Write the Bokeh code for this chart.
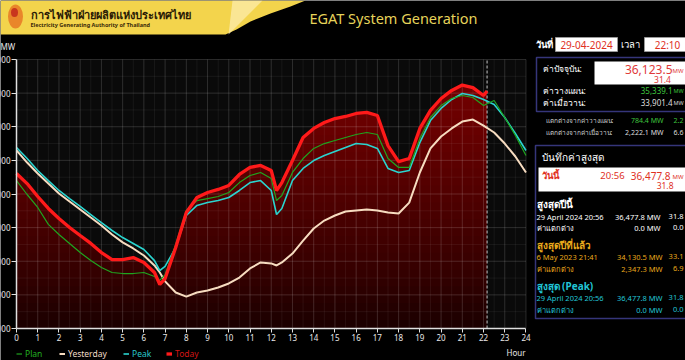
import numpy as np
from bokeh.plotting import figure
from bokeh.models import Range1d, LinearAxis, FixedTicker, NumeralTickFormatter, Legend, LegendItem
from bokeh.core.properties import value
from bokeh.embed import file_html
from bokeh.resources import INLINE

# ---------------- data ----------------
hours = [0, 0.5, 1, 1.5, 2, 2.5, 3, 3.5, 4, 4.5, 5, 5.5, 6, 6.5, 6.75, 7, 7.5, 8, 8.5, 9,
         9.5, 10, 10.5, 11, 11.5, 12, 12.25, 12.5, 13, 13.5, 14, 14.5, 15, 15.5, 16, 16.5,
         17, 17.5, 18, 18.5, 19, 19.5, 20, 20.5, 21, 21.5, 22, 22.5, 23, 23.5, 24]
plan = [30800, 29970, 29200, 28190, 27590, 27060, 26520, 26040, 25630, 25330, 25270, 25270,
        25330, 25090, 24860, 25210, 27000, 29020, 29610, 29730, 29850, 30090, 30680, 31100,
        31280, 30920, 29610, 29910, 31280, 32110, 32710, 33000, 33180, 33360, 33540, 33660,
        33540, 32110, 31580, 31580, 33300, 34550, 35260, 35680, 35860, 35740, 35260, 35560,
        34550, 33480, 32290]
yesterday = [32590, 31870, 31220, 30620, 30030, 29550, 29080, 28600, 28130, 27590, 27120,
             26760, 26340, 25750, 25330, 24800, 24140, 23900, 24140, 24260, 24440, 24680,
             25030, 25570, 25930, 25870, 25750, 25930, 26460, 27230, 27950, 28420, 28720,
             28960, 29020, 29080, 29020, 28900, 28840, 29490, 31280, 32710, 33420, 33900,
             34310, 34430, 34070, 33660, 33000, 32230, 31280]
peak = [32770, 32110, 31400, 30800, 30210, 29730, 29260, 28780, 28300, 27830, 27410, 27060,
        26700, 26040, 25450, 25690, 26820, 28720, 29320, 29490, 29610, 29790, 30210, 30680,
        30800, 30210, 28780, 29140, 30800, 31520, 31990, 32290, 32530, 32770, 33000, 32940,
        32710, 31520, 31280, 31400, 33060, 34370, 35090, 35620, 35980, 35860, 35620, 35320,
        34550, 33600, 32590]
now_hour = 22 + 10 / 60
today_hours = hours[:47] + [now_hour]
today = [31220, 30620, 29850, 29140, 28540, 28010, 27530, 27060, 26520, 26100, 26100, 26220,
         25930, 25330, 24620, 24970, 26820, 28900, 29790, 30090, 30270, 30510, 31160, 31580,
         31700, 31400, 30210, 30680, 31990, 33360, 33900, 34250, 34490, 34610, 34790, 34850,
         34670, 32880, 31930, 32110, 33900, 34970, 35680, 36160, 36478, 36330, 35860, 36124]

x_ticks = list(range(0, 25))
y_ticks = [22000, 24000, 26000, 28000, 30000, 32000, 34000, 36000, 38000]

series_names = ["Plan", "Yesterday", "Peak", "Today"]

# side panel values
cur_date = "29-04-2024"
cur_time = "22:10"
cur_mw = "36,123.5"
cur_temp = "31.4"
plan_now = "35,339.1"
yest_now = "33,901.4"
diff_plan = "784.4 MW"
diff_plan_pct = "2.2"
diff_yest = "2,222.1 MW"
diff_yest_pct = "6.6"
today_max_time = "20:56"
today_max = "36,477.8"
today_max_temp = "31.8"
year_max_date = "29 April 2024 20:56"
year_max = "36,477.8 MW"
year_max_temp = "31.8"
year_diff = "0.0 MW"
year_diff_temp = "0.0"
last_year_date = "6 May 2023 21:41"
last_year_max = "34,130.5 MW"
last_year_temp = "33.1"
last_year_diff = "2,347.3 MW"
last_year_diff_temp = "6.9"
peak_date = "29 April 2024 20:56"
peak_max = "36,477.8 MW"
peak_temp = "31.8"
peak_diff = "0.0 MW"
peak_diff_temp = "0.0"

# ---------------- figure ----------------
W, H = 685, 360
FONT = "Noto Sans"
p = figure(width=W, height=H, output_backend="svg", toolbar_location=None,
           x_range=Range1d(-0.7537, 31.514), y_range=Range1d(20097, 41509),
           x_axis_location=None, y_axis_location=None, min_border=0,
           background_fill_color="black", border_fill_color="black",
           outline_line_color=None)
p.grid.visible = False
p.extra_x_ranges = {"px": Range1d(0, W)}
p.extra_y_ranges = {"py": Range1d(H, 0)}
PX = dict(x_range_name="px", y_range_name="py")

# plot area background
p.quad(left=x_ticks[0], right=x_ticks[-1], bottom=y_ticks[0], top=y_ticks[-1],
       fill_color="#0a0a0a", line_color=None)

# gradient-like fill under today's curve
today_arr = np.array(today, dtype=float)
p.varea(x=today_hours, y1=y_ticks[0], y2=today, fill_color="#1c0000")
for lvl in np.arange(y_ticks[0] + 500, 36500, 500):
    p.varea(x=today_hours, y1=lvl, y2=np.maximum(today_arr, lvl),
            fill_color="#ff1010", fill_alpha=0.021)

# grid
minor_x = [t + 0.5 for t in x_ticks[:-1]]
minor_y = [t + 1000 for t in y_ticks[:-1]]
p.segment(x0=minor_x, y0=y_ticks[0], x1=minor_x, y1=y_ticks[-1],
          line_color="white", line_alpha=0.06, line_width=1)
p.segment(x0=x_ticks[0], y0=minor_y, x1=x_ticks[-1], y1=minor_y,
          line_color="white", line_alpha=0.06, line_width=1)
p.segment(x0=x_ticks[1:], y0=y_ticks[0], x1=x_ticks[1:], y1=y_ticks[-1],
          line_color="white", line_alpha=0.15, line_width=1)
p.segment(x0=x_ticks[0], y0=y_ticks[1:], x1=x_ticks[-1], y1=y_ticks[1:],
          line_color="white", line_alpha=0.15, line_width=1)

# current time marker
p.segment(x0=[now_hour], y0=[y_ticks[0]], x1=[now_hour], y1=[y_ticks[-1]],
          line_color="#c8c8c8", line_dash="3 2", line_width=1)

# lines
r_y = p.line(hours, yesterday, line_color="#f7dcc0", line_width=2)
r_pk = p.line(hours, peak, line_color="#2ad4cf", line_width=1.6)
r_pl = p.line(hours, plan, line_color="#1fa51f", line_width=1.2)
r_t = p.line(today_hours, today, line_color="#ff1a1a", line_width=3.3)

# axes
axis_style = dict(axis_line_color="#e0e0e0", axis_line_width=1.5,
                  major_tick_line_color="#e0e0e0", major_tick_in=0,
                  minor_tick_line_color=None, major_label_text_color="#e8e8e8",
                  major_label_text_font_size="8px",
                  major_label_text_font=FONT, major_label_standoff=1)
yaxis = LinearAxis(fixed_location=x_ticks[0], bounds=(y_ticks[0], y_ticks[-1]),
                   ticker=FixedTicker(ticks=y_ticks),
                   formatter=NumeralTickFormatter(format="0,0"),
                   major_tick_out=5, **axis_style)
p.add_layout(yaxis, "left")
xaxis = LinearAxis(fixed_location=y_ticks[0], bounds=(x_ticks[0], x_ticks[-1]),
                   ticker=FixedTicker(ticks=x_ticks), major_tick_out=4, **axis_style)
p.add_layout(xaxis, "below")

# legends (one per series so each label has its own colour)
leg_specs = [(series_names[0], r_pl, "#22b022", 16),
             (series_names[1], r_y, "#f0dcc8", 59),
             (series_names[2], r_pk, "#29c8cc", 123),
             (series_names[3], r_t, "#d01515", 166)]
for name, rend, col, xloc in leg_specs:
    lg = Legend(items=[LegendItem(label=name, renderers=[rend])], location=(xloc, 1),
                orientation="horizontal", background_fill_alpha=0,
                border_line_color=None, label_text_color=col,
                label_text_font_size="8.5px", label_text_font=FONT,
                glyph_width=6, glyph_height=5, label_height=10, label_standoff=3,
                padding=0, margin=0, spacing=0)
    p.add_layout(lg)


def txt(x, y, s, color, size, align="left", style="normal", font=FONT):
    p.text(x=[x], y=[y], text=[s], text_color=color, text_font_size=size,
           text_align=align, text_baseline="middle", text_font=value(font),
           text_font_style=style, **PX)


# axis captions
txt(0, 46, "MW", "#e8e8e8", "8px")
txt(525, 352, "Hour", "#e8e8e8", "8px", align="right")

# ---------------- header ----------------
p.patch(x=[0, 305, 290, 270, 250, 236, 225, 0], y=[0, 0, 6, 13, 21, 29, 34, 34],
        fill_color="#f3d44c", line_color=None, **PX)
p.patch(x=[232, 262, 248, 238, 228], y=[0, 0, 14, 24, 34],
        fill_color="#fbeaa6", line_color=None, fill_alpha=0.8, **PX)
p.ellipse(x=[15], y=[16], width=[15], height=[24], fill_color="#e9862a",
          line_color=None, **PX)
p.ellipse(x=[14], y=[12], width=[7], height=[9], fill_color="#c8361e",
          line_color=None, **PX)
txt(30, 14, "การไฟฟ้าฝ่ายผลิตแห่งประเทศไทย", "#2a1a05", "11px", style="bold")
txt(30, 24, "Electricity Generating Authority of Thailand", "#3a2a08", "5.5px", style="bold")
txt(393, 17, "EGAT System Generation", "#e6d35a", "14.5px", align="center")

# ---------------- side panel ----------------
# date / time
txt(535, 44, "วันที่", "white", "9.5px", style="bold")
p.quad(left=555, right=617, top=37, bottom=51, fill_color="white", line_color="#999999", **PX)
txt(586, 44, cur_date, "#e0301e", "10px", align="center")
txt(620, 44, "เวลา", "white", "9.5px")
p.quad(left=644, right=700, top=37, bottom=51, fill_color="white", line_color="#999999", **PX)
txt(667, 44, cur_time, "#e0301e", "10px", align="center")

# current values box
p.quad(left=536, right=700, top=57, bottom=111, fill_color="black",
       line_color="#35357a", line_width=1.5, **PX)
p.quad(left=594, right=700, top=61, bottom=84, fill_color="white", line_color=None, **PX)
txt(542, 68, "ค่าปัจจุบัน:", "white", "8.5px")
txt(672, 69, cur_mw, "#e03a3a", "12px", align="right")
txt(683, 70, "MW", "#e03a3a", "6px", align="right")
txt(662, 79, cur_temp, "#e03a3a", "8.5px", align="center")
txt(542, 90, "ค่าวางแผน:", "white", "8.5px")
txt(672, 90, plan_now, "#3ec43e", "8px", align="right")
txt(683, 90, "MW", "#3ec43e", "5.5px", align="right")
txt(542, 102, "ค่าเมื่อวาน:", "white", "8.5px")
txt(672, 102, yest_now, "#dddddd", "8px", align="right")
txt(683, 102, "MW", "#dddddd", "5.5px", align="right")

txt(545, 120, "แตกต่างจากค่าวางแผน:", "#cccccc", "6.5px")
txt(663, 120, diff_plan, "#3ec43e", "7px", align="right")
txt(683, 120, diff_plan_pct, "#3ec43e", "7px", align="right")
txt(545, 132, "แตกต่างจากค่าเมื่อวาน:", "#cccccc", "6.5px")
txt(663, 132, diff_yest, "#dddddd", "7px", align="right")
txt(683, 132, diff_yest_pct, "#dddddd", "7px", align="right")

# record box
p.quad(left=535, right=700, top=145, bottom=318, fill_color="black",
       line_color="#35357a", line_width=1.5, **PX)
txt(541, 156, "บันทึกค่าสูงสุด", "white", "10px")
p.quad(left=538, right=700, top=167, bottom=191, fill_color="white", line_color=None, **PX)
txt(541, 175, "วันนี้", "#e0301e", "9.5px", style="bold")
txt(612, 175, today_max_time, "#e0301e", "9.5px", align="center")
txt(670, 175, today_max, "#e0301e", "10px", align="right")
txt(683, 176, "MW", "#e0301e", "6px", align="right")
txt(673, 185, today_max_temp, "#e0301e", "8.5px", align="right")

txt(536, 203, "สูงสุดปีนี้", "white", "10px", style="bold")
txt(536, 216, year_max_date, "white", "7.5px")
txt(660, 216, year_max, "white", "7.5px", align="right")
txt(683, 216, year_max_temp, "white", "7.5px", align="right")
txt(536, 227, "ค่าแตกต่าง", "white", "7.5px")
txt(660, 227, year_diff, "white", "7.5px", align="right")
txt(683, 227, year_diff_temp, "white", "7.5px", align="right")

gold = "#e9a91c"
txt(536, 244, "สูงสุดปีที่แล้ว", gold, "10px", style="bold")
txt(536, 256, last_year_date, gold, "7.5px")
txt(662, 256, last_year_max, gold, "7.5px", align="right")
txt(683, 256, last_year_temp, gold, "7.5px", align="right")
txt(536, 268, "ค่าแตกต่าง", gold, "7.5px")
txt(662, 268, last_year_diff, gold, "7.5px", align="right")
txt(683, 268, last_year_diff_temp, gold, "7.5px", align="right")

cyan = "#22c5d6"
txt(536, 285, "สูงสุด (Peak)", cyan, "10px", style="bold")
txt(536, 297, peak_date, cyan, "7.5px")
txt(662, 297, peak_max, cyan, "7.5px", align="right")
txt(683, 297, peak_temp, cyan, "7.5px", align="right")
txt(536, 309, "ค่าแตกต่าง", cyan, "7.5px")
txt(662, 309, peak_diff, cyan, "7.5px", align="right")
txt(683, 309, peak_diff_temp, cyan, "7.5px", align="right")

open("out.html", "w").write(file_html(p, INLINE))
